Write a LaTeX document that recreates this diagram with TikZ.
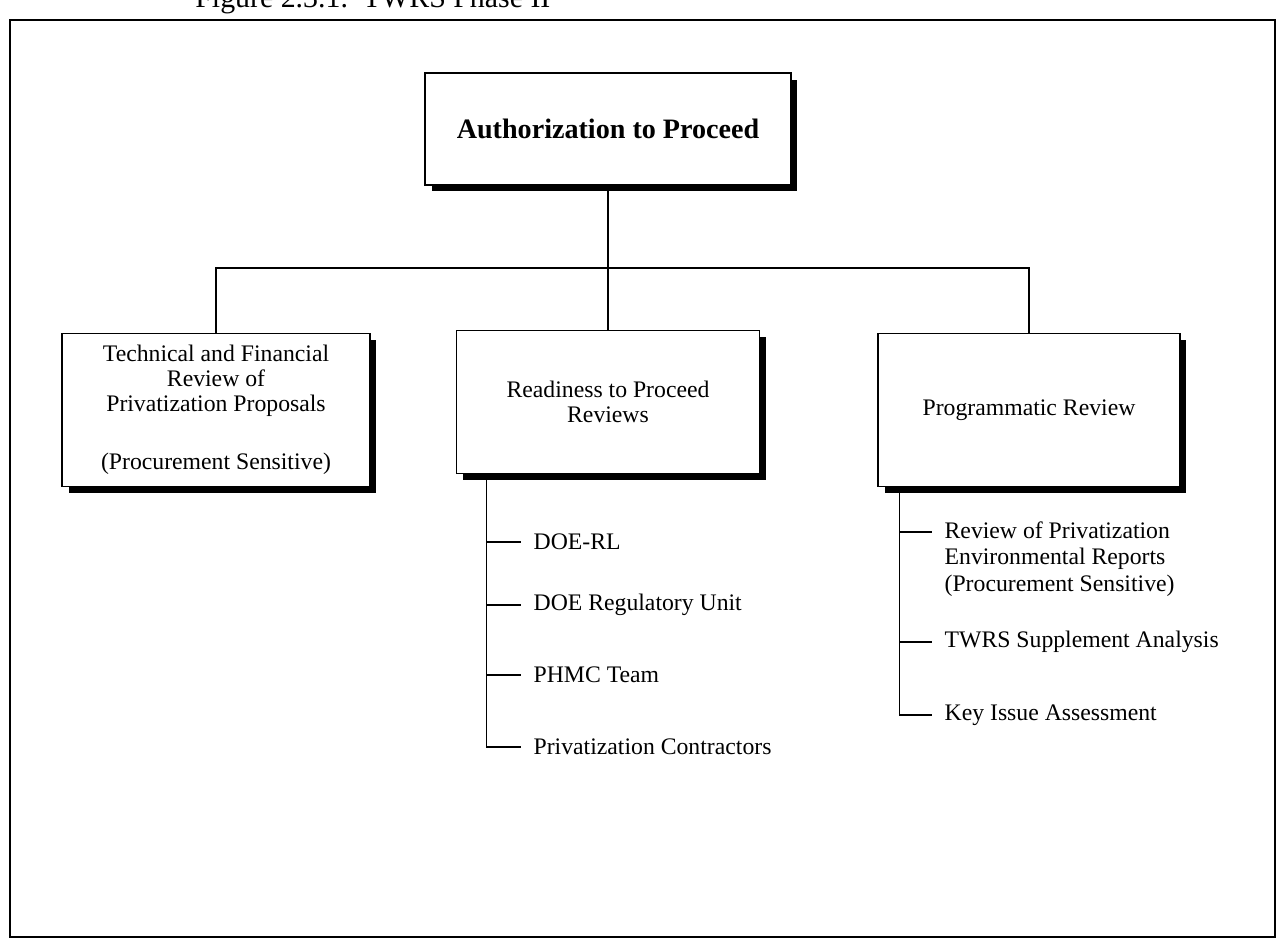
\documentclass[tikz,border=0pt]{standalone}
\usepackage{fontspec}
\setmainfont{Liberation Serif}
\usetikzlibrary{shadows}

\begin{document}
\begin{tikzpicture}[x=0.02cm,y=-0.02cm,font=\fontsize{13.5}{14.2}\selectfont,
  box/.style={draw,line width=0.8pt,fill=white,align=center,
    drop shadow={fill=black,opacity=1,shadow xshift=0.13cm,shadow yshift=-0.13cm}},
  item/.style={anchor=west,inner xsep=7pt,inner ysep=1pt,align=left},
  link/.style={line width=0.7pt}]
\useasboundingbox (0,0) rectangle (1278,947);
\draw[line width=1.1pt] (10,20) rectangle (1275,937);
\node[anchor=base west,inner sep=0pt,font=\fontsize{17}{17}\selectfont] (title) at (195,7) {Figure 2.3.1.\ \ TWRS Phase II};
\node[box,minimum width=7.32cm,minimum height=2.24cm,font=\fontsize{16}{17}\selectfont\bfseries] (auth) at (608,129) {Authorization to Proceed};
\node[box,minimum width=6.16cm,minimum height=3.06cm] (tech) at (216,410) {Technical and Financial\\Review of\\Privatization Proposals\\[19pt](Procurement Sensitive)};
\node[box,minimum width=6.06cm,minimum height=2.86cm] (ready) at (608,402) {Readiness to Proceed\\Reviews};
\node[box,minimum width=6.04cm,minimum height=3.06cm] (prog) at (1029,410) {Programmatic Review};
\coordinate (bar) at (608,268);
\draw[link] (auth.south) -- (ready.north);
\draw[link] (tech.north) |- (bar) -| (prog.north);
\coordinate (rtop) at ([xshift=0.62cm]ready.south west);
\coordinate (ptop) at ([xshift=0.44cm]prog.south west);
\foreach \n/\y/\t in {doerl/542/{DOE-RL},reg/605/{DOE Regulatory Unit},phmc/675/{PHMC Team}}{
  \node[item] (\n) at (521,\y) {\t};
  \draw[link] (rtop |- \n.west) -- (\n.west);
}
\node[item] (contr) at (521,747) {Privatization Contractors};
\draw[link] (rtop) |- (contr.west);
\node[item,font=\fontsize{13.5}{15}\selectfont] (rev) at (932,559) {Review of Privatization\\Environmental Reports\\(Procurement Sensitive)};
\coordinate (revtick) at (932,532);
\draw[link] (ptop |- revtick) -- (revtick);
\node[item] (twrs) at (932,642) {TWRS Supplement Analysis};
\draw[link] (ptop |- twrs.west) -- (twrs.west);
\node[item] (key) at (932,715) {Key Issue Assessment};
\draw[link] (ptop) |- (key.west);
\end{tikzpicture}
\end{document}
